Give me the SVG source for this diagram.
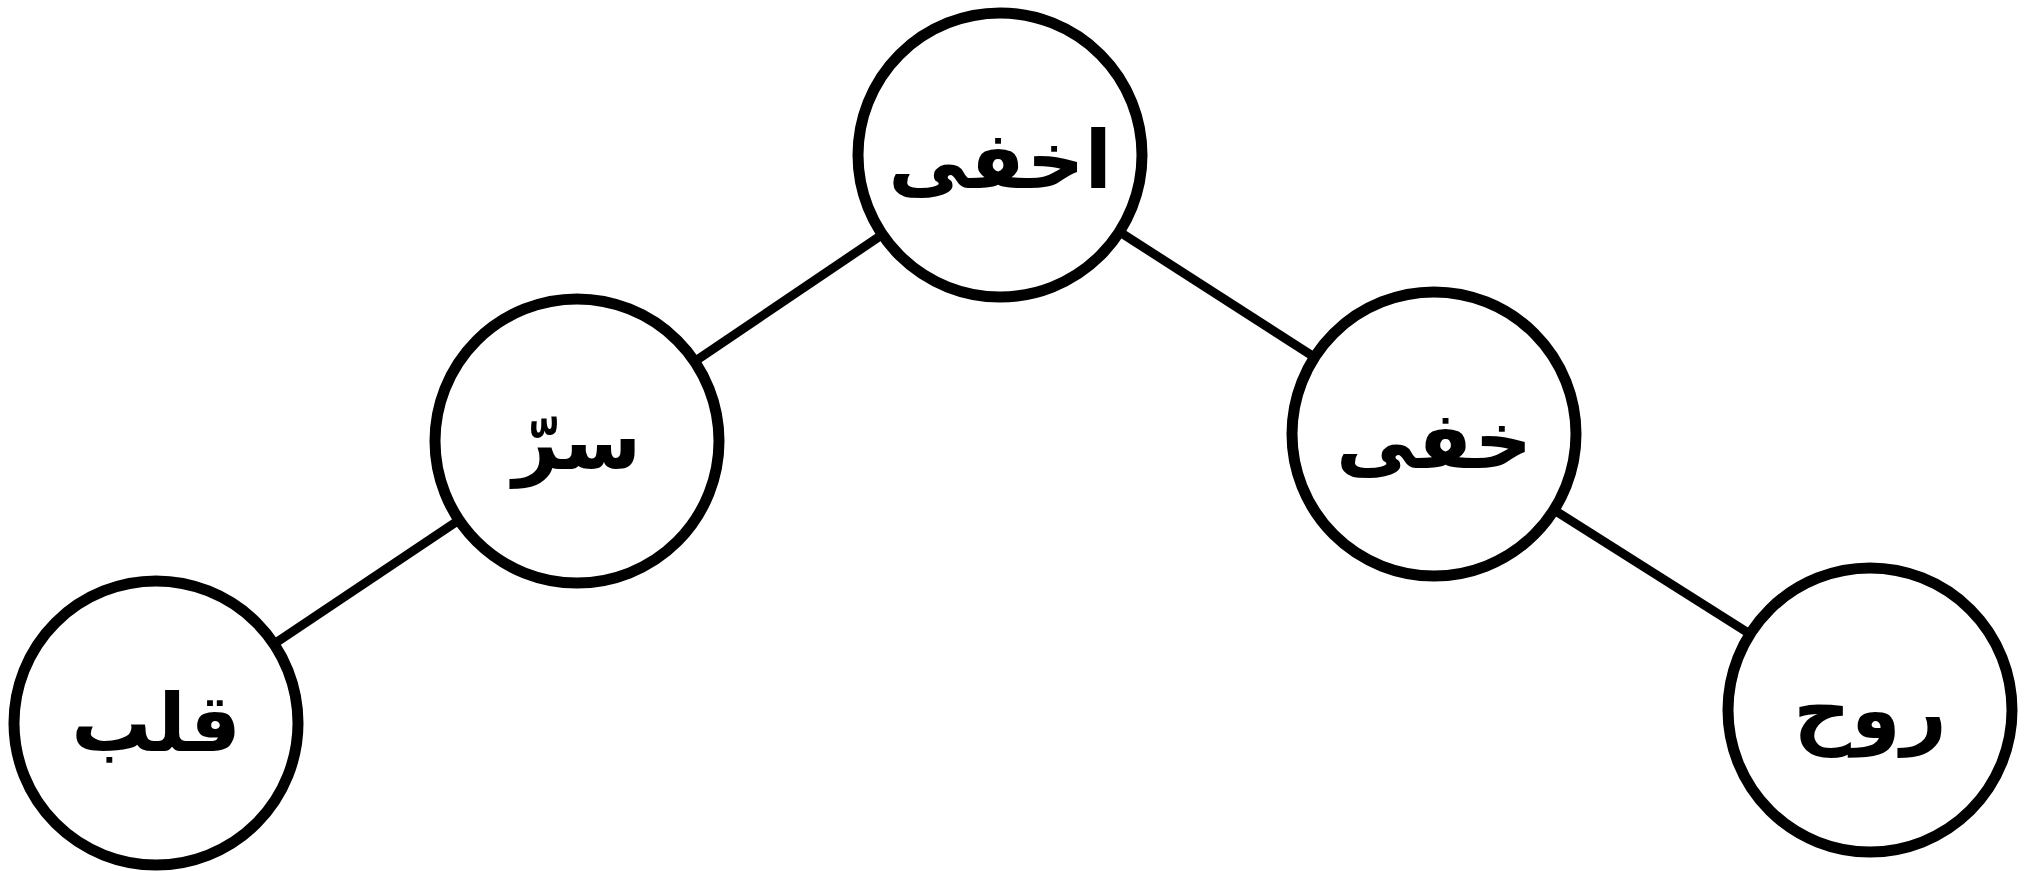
<svg xmlns="http://www.w3.org/2000/svg" width="2027" height="871" viewBox="0 0 2027 871">
<style>
.edge{stroke:#000;stroke-width:9;fill:none}
.node circle{fill:#fff;stroke:#000;stroke-width:11}
.node text{font-family:"DejaVu Sans",sans-serif;font-size:80px;font-weight:bold;fill:#000;text-anchor:middle;dominant-baseline:central}
</style>
<rect width="2027" height="871" fill="#fff"/>
<g id="connectors">
<line class="edge" x1="1000" y1="155" x2="577" y2="441"/>
<line class="edge" x1="1000" y1="155" x2="1434" y2="434"/>
<line class="edge" x1="577" y1="441" x2="156" y2="723"/>
<line class="edge" x1="1434" y1="434" x2="1870" y2="710"/>
</g>
<g id="node-akhfa" class="node"><circle cx="1000" cy="155" r="142"/><text x="1000" y="160" direction="rtl">اخفی</text></g>
<g id="node-sirr" class="node"><circle cx="577" cy="441" r="142"/><text x="577" y="441" direction="rtl">سرّ</text></g>
<g id="node-khafi" class="node"><circle cx="1434" cy="434" r="142"/><text x="1434" y="440" direction="rtl">خفی</text></g>
<g id="node-qalb" class="node"><circle cx="156" cy="723" r="142"/><text x="156" y="723" direction="rtl">قلب</text></g>
<g id="node-ruh" class="node"><circle cx="1870" cy="710" r="142"/><text x="1870" y="710" direction="rtl">روح</text></g>
</svg>
